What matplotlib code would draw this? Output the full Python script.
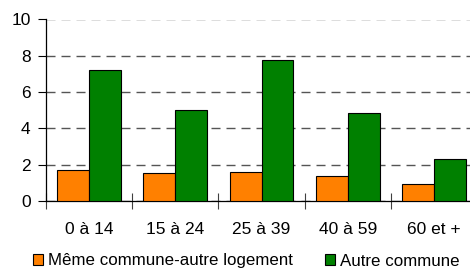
import matplotlib
matplotlib.use("Agg")
import matplotlib.pyplot as plt
import numpy as np

categories = ["0 à 14", "15 à 24", "25 à 39", "40 à 59", "60 et +"]
meme_commune = [1.72, 1.53, 1.60, 1.36, 0.94]
autre_commune = [7.22, 5.00, 7.75, 4.83, 2.33]
series_names = ["Même commune-autre logement", "Autre commune"]
yticks = [0, 2, 4, 6, 8, 10]

plt.rcParams['font.family'] = ['Liberation Sans', 'DejaVu Sans']
FS = 12.5
LFS = 12.2

fig = plt.figure(figsize=(4.70, 2.69), dpi=100)
ax = fig.add_axes([46/470, 1-201/269, (477-46)/470, (201-19.5)/269])

x = np.arange(len(categories))
w = 0.37
ax.bar(x - w/2, meme_commune, w, color="#ff8000", edgecolor="#000000", linewidth=0.8, zorder=3, label=series_names[0])
ax.bar(x + w/2, autre_commune, w, color="#008000", edgecolor="#000000", linewidth=0.8, zorder=3, label=series_names[1])

ax.set_xlim(-0.5, len(categories) - 0.5)
ax.set_ylim(0, 10)
ax.set_yticks(yticks)
ax.set_yticklabels([str(t) for t in yticks], fontsize=FS)
ax.set_xticks(x)
ax.set_xticklabels(categories, fontsize=FS)
ax.set_xticks(np.arange(-0.5, len(categories), 1), minor=True)
ax.tick_params(axis='x', which='major', length=0, pad=15)
ax.tick_params(axis='x', which='minor', length=11, direction='inout', width=0.8, color='#404040')
ax.tick_params(axis='y', length=6, width=0.8, direction='out', pad=5)

ax.yaxis.grid(True, linestyle=(0, (6.5, 4.3)), color='#555555', linewidth=1.0, zorder=1)
ax.set_axisbelow(True)
for s in ['top', 'right']:
    ax.spines[s].set_visible(False)
ax.spines['left'].set_linewidth(0.9)
ax.spines['bottom'].set_linewidth(0.9)

fs_px = LFS * 100 / 72
leg = fig.legend(loc='center left', bbox_to_anchor=(32.7/470, (269-261)/269), ncol=2, frameon=False,
                 fontsize=LFS, handlelength=10.6/fs_px, handleheight=10.6/fs_px,
                 handletextpad=4.7/fs_px, columnspacing=32/fs_px, borderpad=0, borderaxespad=0)

fig.savefig("out.png", dpi=100)
